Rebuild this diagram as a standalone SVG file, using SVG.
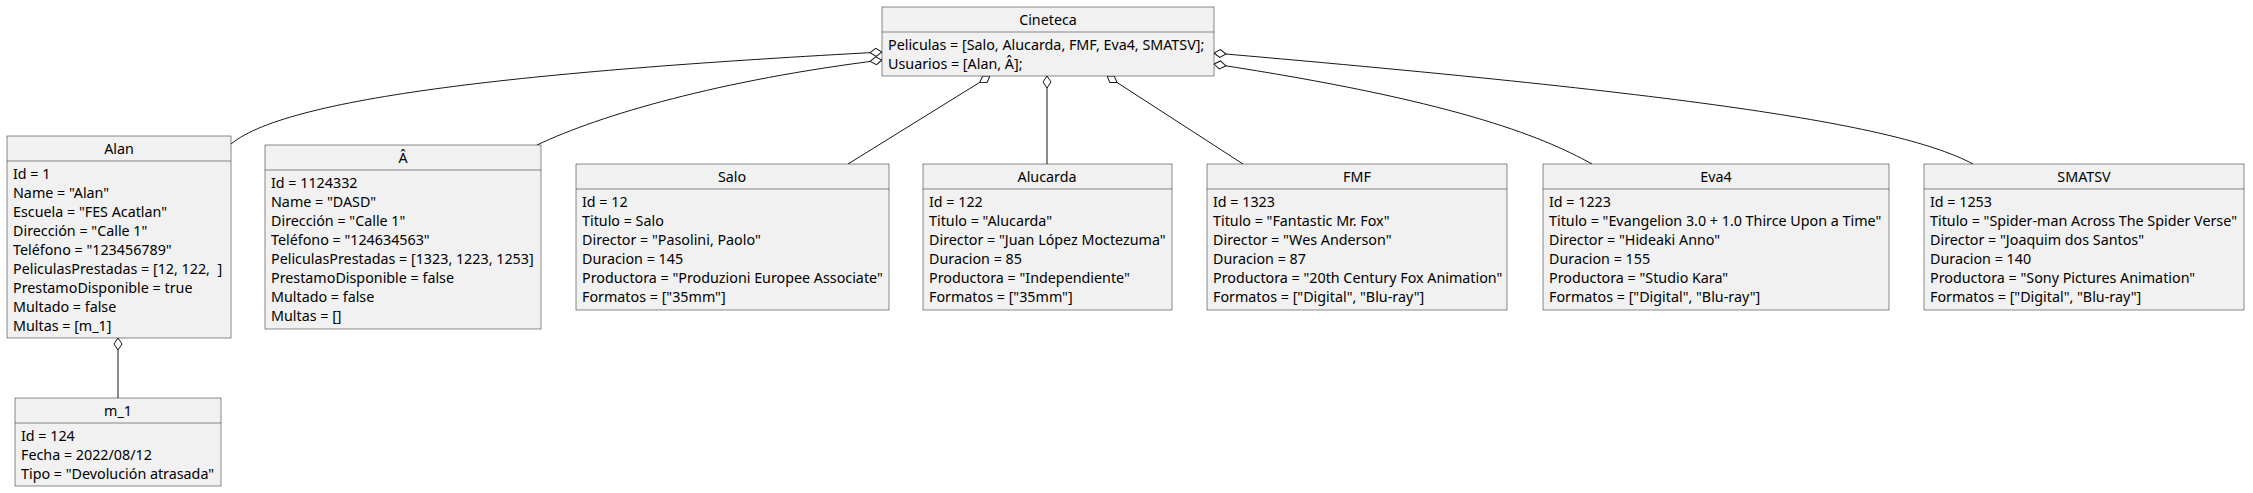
<svg xmlns="http://www.w3.org/2000/svg" width="2253" height="493" viewBox="0 0 2253 493">
<style>
.box{fill:#F1F1F1;stroke:#181818;stroke-width:0.5}
.sep{stroke:#181818;stroke-width:0.5}
text{font-family:"Noto Sans","Open Sans","DejaVu Sans",sans-serif;font-size:14.3px;fill:#000;white-space:pre}
.t{text-anchor:middle}
.c{fill:none;stroke:#181818;stroke-width:1}
</style>
<defs>
<marker id="agg" markerUnits="userSpaceOnUse" markerWidth="14" markerHeight="10" refX="0" refY="5" viewBox="0 0 14 10" orient="auto">
<path d="M0,5 L6,1 L12,5 L6,9 Z" fill="#FFFFFF" stroke="#181818" stroke-width="1"/>
</marker>
</defs>
<rect width="2253" height="493" fill="#FFFFFF"/>
<g id="connectors">
<path class="c" marker-start="url(#agg)" d="M882 52 C550 70 290 95 231 144"/>
<path class="c" marker-start="url(#agg)" d="M882 60 C720 80 600 115 537 145"/>
<path class="c" marker-start="url(#agg)" d="M990 76 L848 164"/>
<path class="c" marker-start="url(#agg)" d="M1047 76 L1047 164"/>
<path class="c" marker-start="url(#agg)" d="M1107 76 L1243 164"/>
<path class="c" marker-start="url(#agg)" d="M1214 64 C1450 100 1540 135 1592 164"/>
<path class="c" marker-start="url(#agg)" d="M1214 53 C1700 95 1900 125 1973 164"/>
<path class="c" marker-start="url(#agg)" d="M118 338 L118 398"/>
</g>
<g id="Cineteca">
<rect class="box" x="882" y="7" width="332" height="69"/>
<line class="sep" x1="882" y1="32" x2="1214" y2="32"/>
<text class="t" x="1048" y="25">Cineteca</text>
<text x="888" y="50">Peliculas = [Salo, Alucarda, FMF, Eva4, SMATSV];</text>
<text x="888" y="69">Usuarios = [Alan, Â];</text>
</g>
<g id="Alan">
<rect class="box" x="7" y="136" width="224" height="202"/>
<line class="sep" x1="7" y1="161" x2="231" y2="161"/>
<text class="t" x="119" y="154">Alan</text>
<text x="13" y="179">Id = 1</text>
<text x="13" y="198">Name = "Alan"</text>
<text x="13" y="217">Escuela = "FES Acatlan"</text>
<text x="13" y="236">Dirección = "Calle 1"</text>
<text x="13" y="255">Teléfono = "123456789"</text>
<text x="13" y="274" xml:space="preserve">PeliculasPrestadas = [12, 122,  ]</text>
<text x="13" y="293">PrestamoDisponible = true</text>
<text x="13" y="312">Multado = false</text>
<text x="13" y="331">Multas = [m_1]</text>
</g>
<g id="A">
<rect class="box" x="265" y="145" width="276" height="184"/>
<line class="sep" x1="265" y1="170" x2="541" y2="170"/>
<text class="t" x="403" y="163">Â</text>
<text x="271" y="188">Id = 1124332</text>
<text x="271" y="207">Name = "DASD"</text>
<text x="271" y="226">Dirección = "Calle 1"</text>
<text x="271" y="245">Teléfono = "124634563"</text>
<text x="271" y="264">PeliculasPrestadas = [1323, 1223, 1253]</text>
<text x="271" y="283">PrestamoDisponible = false</text>
<text x="271" y="302">Multado = false</text>
<text x="271" y="321">Multas = []</text>
</g>
<g id="Salo">
<rect class="box" x="576" y="164" width="313" height="146"/>
<line class="sep" x1="576" y1="189" x2="889" y2="189"/>
<text class="t" x="732" y="182">Salo</text>
<text x="582" y="207">Id = 12</text>
<text x="582" y="226">Titulo = Salo</text>
<text x="582" y="245">Director = "Pasolini, Paolo"</text>
<text x="582" y="264">Duracion = 145</text>
<text x="582" y="283">Productora = "Produzioni Europee Associate"</text>
<text x="582" y="302">Formatos = ["35mm"]</text>
</g>
<g id="Alucarda">
<rect class="box" x="923" y="164" width="249" height="146"/>
<line class="sep" x1="923" y1="189" x2="1172" y2="189"/>
<text class="t" x="1047" y="182">Alucarda</text>
<text x="929" y="207">Id = 122</text>
<text x="929" y="226">Titulo = "Alucarda"</text>
<text x="929" y="245">Director = "Juan López Moctezuma"</text>
<text x="929" y="264">Duracion = 85</text>
<text x="929" y="283">Productora = "Independiente"</text>
<text x="929" y="302">Formatos = ["35mm"]</text>
</g>
<g id="FMF">
<rect class="box" x="1207" y="164" width="300" height="146"/>
<line class="sep" x1="1207" y1="189" x2="1507" y2="189"/>
<text class="t" x="1357" y="182">FMF</text>
<text x="1213" y="207">Id = 1323</text>
<text x="1213" y="226">Titulo = "Fantastic Mr. Fox"</text>
<text x="1213" y="245">Director = "Wes Anderson"</text>
<text x="1213" y="264">Duracion = 87</text>
<text x="1213" y="283">Productora = "20th Century Fox Animation"</text>
<text x="1213" y="302">Formatos = ["Digital", "Blu-ray"]</text>
</g>
<g id="Eva4">
<rect class="box" x="1543" y="164" width="346" height="146"/>
<line class="sep" x1="1543" y1="189" x2="1889" y2="189"/>
<text class="t" x="1716" y="182">Eva4</text>
<text x="1549" y="207">Id = 1223</text>
<text x="1549" y="226">Titulo = "Evangelion 3.0 + 1.0 Thirce Upon a Time"</text>
<text x="1549" y="245">Director = "Hideaki Anno"</text>
<text x="1549" y="264">Duracion = 155</text>
<text x="1549" y="283">Productora = "Studio Kara"</text>
<text x="1549" y="302">Formatos = ["Digital", "Blu-ray"]</text>
</g>
<g id="SMATSV">
<rect class="box" x="1924" y="164" width="320" height="146"/>
<line class="sep" x1="1924" y1="189" x2="2244" y2="189"/>
<text class="t" x="2084" y="182">SMATSV</text>
<text x="1930" y="207">Id = 1253</text>
<text x="1930" y="226">Titulo = "Spider-man Across The Spider Verse"</text>
<text x="1930" y="245">Director = "Joaquim dos Santos"</text>
<text x="1930" y="264">Duracion = 140</text>
<text x="1930" y="283">Productora = "Sony Pictures Animation"</text>
<text x="1930" y="302">Formatos = ["Digital", "Blu-ray"]</text>
</g>
<g id="m_1">
<rect class="box" x="15" y="398" width="206" height="88"/>
<line class="sep" x1="15" y1="423" x2="221" y2="423"/>
<text class="t" x="118" y="416">m_1</text>
<text x="21" y="441">Id = 124</text>
<text x="21" y="460">Fecha = 2022/08/12</text>
<text x="21" y="479">Tipo = "Devolución atrasada"</text>
</g>
</svg>
